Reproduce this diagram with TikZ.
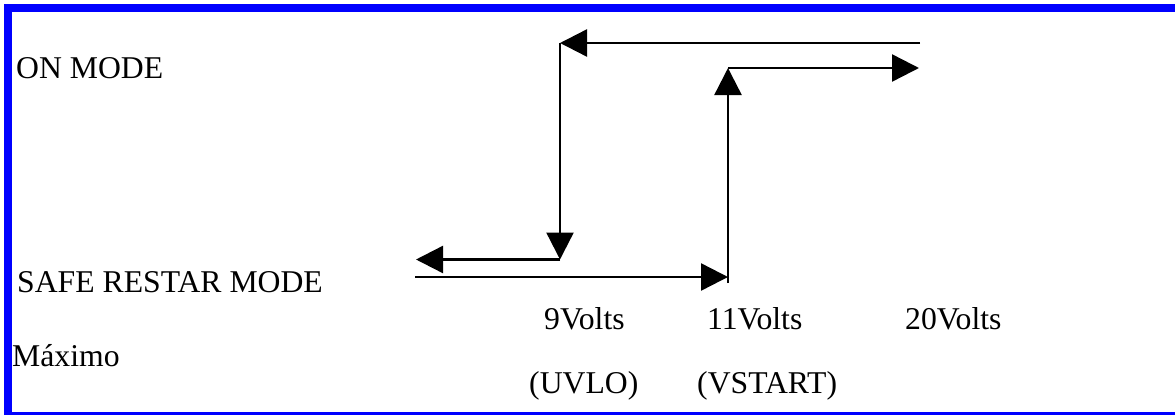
\documentclass[tikz,border=0pt]{standalone}
\usepackage{fontspec}
\setmainfont{Liberation Serif}
\usetikzlibrary{arrows.meta}
\tikzset{
  lbl/.style={anchor=base west,inner sep=0pt,font=\fontsize{31.7}{36}\selectfont},
  conn/.style={line width=2.4pt,-{Triangle[length=27pt,width=27pt]}},
  bluebar/.style={fill={rgb,255:red,0;green,0;blue,255},draw=none}
}
\begin{document}
\begin{tikzpicture}[x=1pt,y=-1pt]
\useasboundingbox (0,0) rectangle (1175,415);
% border
\fill[bluebar] (4,3.5) rectangle (1175,11.7);
\fill[bluebar] (4,3.5) rectangle (12,415);
\fill[bluebar] (4,411.5) rectangle (1175,415);
% coordinates
\coordinate (tr) at (920,43);
\coordinate (tl) at (560,43);
\coordinate (dl) at (560,259.5);
\coordinate (ll) at (416,259.5);
\coordinate (bl) at (415,277);
\coordinate (br) at (728,277);
\coordinate (bb) at (728,283);
\coordinate (ut) at (728,68);
\coordinate (ur) at (919,68);
% falling path
\draw[conn] (tr) -- (tl);
\draw[conn] (tl) -- (dl);
\draw[conn] (dl) -- (ll);
% rising path
\draw[conn] (bl) -- (br);
\draw[conn] (bb) -- (ut);
\draw[conn] (ut) -- (ur);
% labels
\node[lbl] (on) at (16,78) {ON MODE};
\node[lbl] (safe) at (17,292) {SAFE RESTAR MODE};
\node[lbl] (v9) at (544,329) {9Volts};
\node[lbl] (v11) at (707,329) {11Volts};
\node[lbl] (v20) at (905,329) {20Volts};
\node[lbl] (max) at (12,366) {Máximo};
\node[lbl] (uvlo) at (529,393) {(UVLO)};
\node[lbl] (vstart) at (697,393) {(VSTART)};
\end{tikzpicture}
\end{document}
